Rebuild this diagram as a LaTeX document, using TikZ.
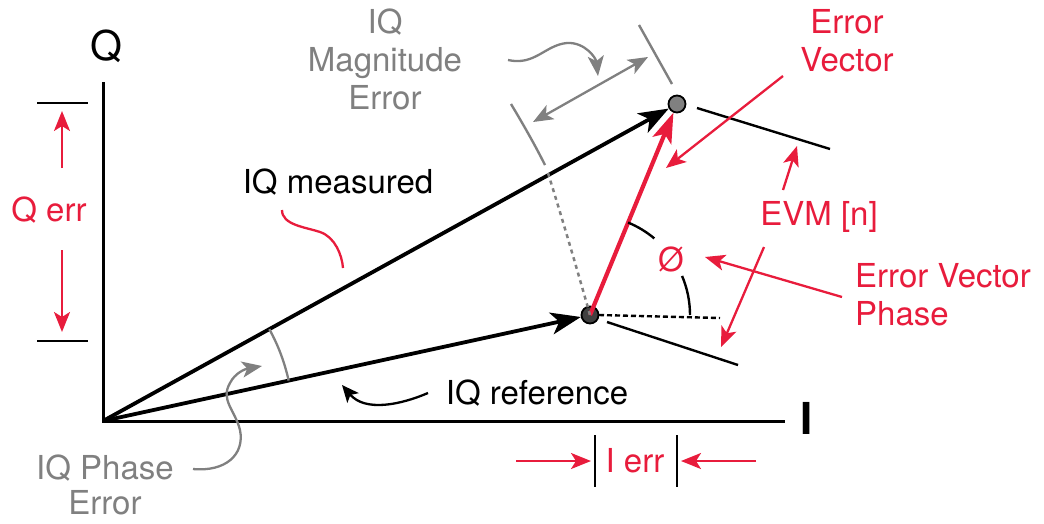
\documentclass[tikz,border=0pt]{standalone}
\usepackage{fontspec}
\setmainfont{TeX Gyre Heros}
\usetikzlibrary{arrows.meta}
\definecolor{kred}{RGB}{232,28,60}
\definecolor{kgray}{RGB}{128,128,128}
\begin{document}
\begin{tikzpicture}[x=1pt,y=1pt,
  lbl/.style={font=\fontsize{33}{38}\selectfont, inner sep=0pt, align=center},
  axisline/.style={line width=3pt},
  vec/.style={line width=3.8pt, -{Stealth[length=30pt,width=22pt,inset=8pt]}},
  errvec/.style={kred, line width=4.2pt, -{Stealth[length=30pt,width=20pt,inset=7pt]}},
  redarr/.style={kred, line width=2.3pt, -{Stealth[length=20pt,width=16pt,inset=5pt]}},
  grayarr/.style={kgray, line width=2.3pt, -{Stealth[length=20pt,width=16pt,inset=5pt]}},
  blkarr/.style={black, line width=2.3pt, -{Stealth[length=17pt,width=15pt,inset=4pt]}},
  tickline/.style={line width=2.4pt},
  graytick/.style={kgray, line width=2.4pt},
  dot/.style={circle, draw=black, line width=1.8pt, minimum size=17pt, inner sep=0pt},
]
\path[use as bounding box] (0,0) rectangle (1044,-523);

% points
\coordinate (O) at (103,-421);
\coordinate (Qtop) at (103,-82);
\coordinate (Iend) at (785,-421);
\node[dot, fill=kgray] (M) at (677,-104) {};
\node[dot, fill=black!75] (R) at (590,-315) {};

% axes
\draw[axisline] (Qtop) -- (O) -- (Iend);
\node[lbl, font=\fontsize{41}{44}\selectfont] (Qlab) at (106,-46) {Q};
\node[lbl, font=\fontsize{44}{48}\selectfont\bfseries] (Ilab) at (807,-418) {I};

% vectors
\draw[vec] (O) -- (M);
\draw[vec] (O) -- (R);
\draw[errvec] (R.center) -- (M);

% magnitude arc
\coordinate (a1) at (511,-104);
\coordinate (a2) at (545,-165);
\coordinate (a3) at (548,-173);
\draw[graytick] (a1) .. controls (523,-124) and (535,-145) .. (a2);
\draw[kgray, line width=2.5pt, dash pattern=on 4pt off 4pt] (a3) .. controls (562,-218) and (575,-262) .. (R.center);
\coordinate (t1) at (639,-25);
\coordinate (t2) at (672,-84);
\draw[graytick] (t1) -- (t2);
\coordinate (d1) at (533,-122);
\coordinate (d2) at (648,-57);
\draw[grayarr, {Stealth[length=20pt,width=16pt,inset=5pt]}-{Stealth[length=20pt,width=16pt,inset=5pt]}] (d1) -- (d2);
\node[lbl, kgray] (mag) at (385,-59) {IQ\\Magnitude\\Error};
\coordinate (m1) at (508,-60);
\coordinate (m2) at (598,-76);
\draw[grayarr] (m1) .. controls (535,-66) and (545,-45) .. (567,-43) .. controls (585,-42) and (596,-58) .. (m2);

% EVM lines
\coordinate (e1) at (697,-108);
\coordinate (e2) at (830,-149);
\coordinate (e3) at (607,-322);
\coordinate (e4) at (738,-365);
\draw[tickline] (e1) -- (e2);
\draw[tickline] (e3) -- (e4);
\node[lbl, kred] (evm) at (819,-217) {EVM [n]};
\coordinate (v1) at (783,-190);
\coordinate (v2) at (797,-146);
\coordinate (v3) at (764,-247);
\coordinate (v4) at (721,-347);
\draw[redarr] (v1) -- (v2);
\draw[redarr] (v3) -- (v4);

% error vector label
\node[lbl, kred] (ev) at (847,-41) {Error\\Vector};
\coordinate (ev1) at (783,-76);
\coordinate (ev2) at (666,-168);
\draw[redarr] (ev1) -- (ev2);

% phase angle
\draw[tickline, dash pattern=on 5pt off 3pt] (R.center) ++(9,0) -- (720,-318);
\draw[tickline] (690,-315) arc[start angle=0, end angle=23, radius=100];
\draw[tickline] (R.center) ++(50:100) arc[start angle=50, end angle=67.6, radius=100];
\node[lbl, kred] (phi) at (671,-259) {Ø};
\node[lbl, kred, align=left, anchor=west] (evp) at (855,-295) {Error Vector\\Phase};
\coordinate (p1) at (842,-297);
\coordinate (p2) at (705,-257);
\draw[redarr] (p1) -- (p2);

% IQ measured label
\node[lbl] (meas) at (338,-182) {IQ measured};
\coordinate (s1) at (282,-210);
\coordinate (s2) at (343,-268);
\draw[kred, line width=2.3pt] (s1) .. controls (282,-225) and (305,-227) .. (320,-232) .. controls (335,-237) and (342,-255) .. (s2);

% IQ reference label
\node[lbl] (ref) at (537,-393) {IQ reference};
\coordinate (r1) at (428,-393);
\coordinate (r2) at (342,-385);
\draw[blkarr] (r1) .. controls (400,-405) and (365,-412) .. (r2);

% IQ phase error
\draw[kgray, line width=2.3pt] (O) ++(12.28:190) arc[start angle=12.28, end angle=28.91, radius=190];
\node[lbl, kgray, font=\fontsize{33}{35}\selectfont] (ph) at (105,-485) {IQ Phase\\Error};
\coordinate (g1) at (193,-469);
\coordinate (g2) at (262,-366);
\draw[grayarr] (g1) .. controls (225,-472) and (245,-455) .. (240,-430) .. controls (235,-410) and (220,-400) .. (230,-383) .. controls (235,-373) and (245,-369) .. (g2);

% Q err
\draw[tickline] (37,-103) -- (88,-103);
\draw[tickline] (37,-341) -- (88,-341);
\node[lbl, kred] (qerr) at (49,-210) {Q err};
\coordinate (q1) at (62,-168);
\coordinate (q2) at (62,-111);
\coordinate (q3) at (62,-250);
\coordinate (q4) at (62,-332);
\draw[redarr] (q1) -- (q2);
\draw[redarr] (q3) -- (q4);

% I err
\draw[tickline] (595,-435) -- (595,-487);
\draw[tickline] (677,-435) -- (677,-487);
\node[lbl, kred] (ierr) at (635,-461) {I err};
\coordinate (i1) at (516,-461);
\coordinate (i2) at (591,-461);
\coordinate (i3) at (756,-461);
\coordinate (i4) at (681,-461);
\draw[redarr] (i1) -- (i2);
\draw[redarr] (i3) -- (i4);
\end{tikzpicture}
\end{document}
